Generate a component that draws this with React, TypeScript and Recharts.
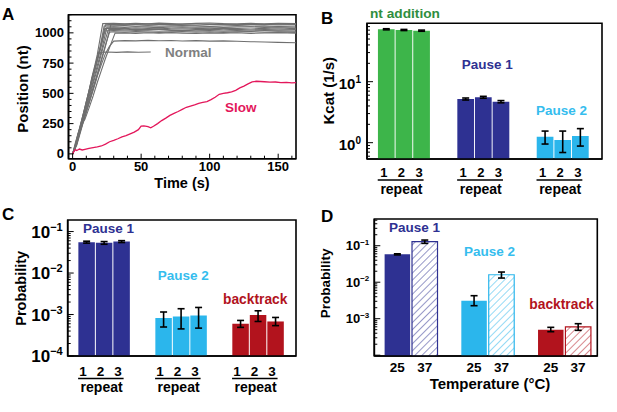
import React from 'react';
import { LineChart, Line, BarChart, Bar, XAxis, YAxis, ErrorBar, Cell, ReferenceArea } from 'recharts';

const FONT = '"Liberation Sans", Arial, Helvetica, sans-serif';

// ---------------- Panel A: trajectories ----------------
const normalTraces: [number, number][][] = [
  [[0,0],[2,60],[4,150],[6,230],[8,330],[10,430],[12,520],[14,630],[16,720],[18,820],[20,950],[22,1076],[30,1078],[38,1074],[46,1079],[55,1075],[63,1080],[72,1076],[80,1073],[90,1078],[100,1081],[110,1076],[120,1074],[130,1078],[140,1075],[150,1079],[163,1076]],
  [[0,0],[3,100],[6,240],[9,370],[12,500],[15,640],[18,780],[21,910],[24,1066],[30,1070],[38,1066],[46,1069],[55,1064],[63,1068],[72,1071],[80,1066],[90,1063],[100,1068],[110,1070],[120,1065],[130,1068],[140,1071],[150,1066],[163,1069]],
  [[0,0],[2,50],[5,180],[8,320],[11,460],[14,610],[17,740],[20,880],[23,1056],[30,1058],[38,1061],[46,1055],[55,1059],[63,1054],[72,1058],[80,1061],[90,1056],[100,1052],[110,1057],[120,1060],[130,1055],[140,1058],[150,1053],[163,1057]],
  [[0,0],[3,80],[6,210],[9,340],[12,470],[15,600],[18,730],[21,850],[25,1046],[30,1049],[38,1045],[46,1050],[55,1047],[63,1043],[72,1048],[80,1051],[90,1046],[100,1049],[110,1044],[120,1048],[130,1051],[140,1045],[150,1049],[163,1046]],
  [[0,0],[2,70],[5,200],[8,330],[11,450],[14,590],[17,720],[20,850],[24,1036],[30,1039],[38,1035],[46,1040],[55,1036],[63,1033],[72,1038],[80,1041],[90,1037],[100,1034],[110,1039],[120,1036],[130,1032],[140,1037],[150,1040],[163,1035]],
  [[0,0],[3,90],[6,220],[9,330],[12,450],[15,580],[18,700],[22,870],[26,1026],[30,1029],[38,1025],[46,1030],[55,1027],[63,1031],[72,1026],[80,1023],[90,1028],[100,1031],[110,1026],[120,1029],[130,1024],[140,1028],[150,1025],[163,1027]],
  [[0,0],[2,80],[5,210],[8,340],[11,480],[14,620],[17,750],[20,870],[23,1016],[30,1019],[38,1015],[46,1020],[55,1017],[63,1013],[72,1018],[80,1021],[90,1016],[100,1019],[110,1014],[120,1018],[130,1015],[140,1020],[150,1016],[163,1014]],
  [[0,0],[3,70],[6,190],[9,310],[12,430],[15,550],[18,660],[21,780],[24,900],[27,1006],[30,1009],[38,1005],[46,1010],[55,1007],[63,1003],[72,1008],[80,1011],[90,1006],[100,1009],[110,1004],[120,1008],[130,1011],[140,1005],[150,1008],[163,1004]],
  [[0,0],[2,90],[4,170],[6,230],[9,285],[12,380],[15,480],[18,590],[21,690],[24,790],[27,880],[29,940],[31,998],[38,1000],[46,996],[55,1001],[63,997],[72,1002],[80,998],[90,995],[100,1000],[110,997],[120,1001],[130,996],[140,999],[150,1002],[163,997]],
  [[0,0],[3,80],[6,200],[9,310],[12,420],[15,530],[18,640],[21,740],[24,830],[27,890],[30,932],[38,936],[46,934],[55,938],[63,935],[72,937],[80,933],[90,936],[100,932],[110,934],[120,930],[130,927],[140,924],[150,921],[163,918]],
  [[0,0],[2,70],[4,160],[6,250],[8,340],[10,430],[12,520],[14,610],[16,700],[19,838],[25,842],[32,839],[40,843],[48,840],[57,842]],
  [[0,0],[4,130],[8,280],[12,420],[16,570],[20,730],[24,890],[28,1070],[38,1073],[46,1069],[55,1074],[63,1070],[72,1067],[80,1072],[90,1075],[100,1070],[110,1073],[120,1068],[130,1072],[140,1069],[150,1073],[163,1070]],
];

const slowTrace: [number, number][] = [
  [0,0],[1,20],[2,35],[3,28],[5,40],[7,32],[9,38],[12,45],[15,52],[18,58],[21,65],[24,80],[27,100],[30,112],[33,125],[36,140],[39,150],[42,165],[45,180],[48,200],[50,230],[52,232],[55,225],[57,215],[59,228],[62,250],[65,275],[68,295],[71,318],[74,335],[77,350],[80,368],[83,385],[86,395],[89,405],[92,418],[95,425],[98,432],[101,448],[104,468],[107,492],[110,500],[113,505],[116,512],[119,525],[122,545],[125,560],[128,578],[131,595],[134,600],[137,598],[140,596],[144,592],[148,594],[152,588],[156,590],[160,586],[163,588],
];

const A_X_LABELS = [0, 50, 100, 150];
const A_Y_LABELS = [0, 250, 500, 750, 1000];

// ---------------- Panel B: Kcat ----------------
const kcatGroups = ['nt addition', 'Pause 1', 'Pause 2'];
const repeatLabels = ['1', '2', '3'];
const kcatValues = [[72.3, 70.4, 68.6], [5.2, 5.55, 4.7], [1.25, 1.11, 1.29]];
const kcatErrLow = [[1.5, 1.5, 1.5], [0.2, 0.2, 0.2], [0.3, 0.42, 0.41]];
const kcatErrHigh = [[1.5, 1.5, 1.5], [0.2, 0.2, 0.2], [0.3, 0.44, 0.41]];

// ---------------- Panel C: probability per repeat ----------------
const probGroups = ['Pause 1', 'Pause 2', 'backtrack'];
const probValues = [[0.0556, 0.0534, 0.0574], [8.2e-4, 8.95e-4, 9.5e-4], [5.97e-4, 9.8e-4, 6.8e-4]];
const probErrLow = [[0.003, 0.004, 0.003], [3.2e-4, 4.45e-4, 4.8e-4], [1.07e-4, 3.0e-4, 1.4e-4]];
const probErrHigh = [[0.003, 0.004, 0.003], [3.3e-4, 4.85e-4, 5.3e-4], [1.23e-4, 2.5e-4, 1.7e-4]];

// ---------------- Panel D: probability vs temperature ----------------
const tempLabels = ['25', '37'];
const tempValues = [[0.058, 0.129], [0.00311, 0.016], [5.0e-4, 6.0e-4]];
const tempErrLow = [[0.002, 0.013], [0.00084, 0.003], [0.6e-4, 1.2e-4]];
const tempErrHigh = [[0.002, 0.014], [0.00116, 0.003], [0.8e-4, 1.3e-4]];

// ---------------- styles ----------------
const GREEN = '#3db54a';
const GREEN_TEXT = '#2f8e3e';
const NAVY = '#2e3192';
const LIGHT = '#2bb6ec';
const LIGHT_TEXT = '#35bdee';
const DARKRED = '#b2131d';
const GRAY = '#6f6f6f';
const PINK = '#e3175b';

type Row = { x: number; value: number; err: [number, number]; g: number; r: number; label: string };

function buildRows(values: number[][], low: number[][], high: number[][], labels: string[], step: number): Row[] {
  const rows: Row[] = [];
  values.forEach((grp, g) =>
    grp.forEach((v, r) => rows.push({ x: g * step + r, value: v, err: [low[g][r], high[g][r]], g, r, label: labels[r] }))
  );
  return rows;
}

function logTicks(min: number, max: number): number[] {
  const out: number[] = [];
  for (let k = Math.floor(Math.log10(min)); k <= Math.ceil(Math.log10(max)); k++) {
    for (let m = 1; m <= 9; m++) {
      const v = parseFloat((m * Math.pow(10, k)).toPrecision(6));
      if (v >= min * 0.9999 && v <= max * 1.0001) out.push(v);
    }
  }
  return out;
}

const LinTickY = (props: any) => {
  const { x, y, payload, labels } = props;
  const v = payload.value;
  const major = labels.includes(v);
  return (
    <g>
      <line x1={x} y1={y} x2={x + (major ? 5 : 3)} y2={y} stroke="#000" strokeWidth={1} />
      {major && (
        <text x={x - 4.5} y={y + 4.6} textAnchor="end" fontFamily={FONT} fontWeight="bold" fontSize={13} fill="#000">
          {v}
        </text>
      )}
    </g>
  );
};

const LinTickX = (props: any) => {
  const { x, y, payload, labels } = props;
  const v = payload.value;
  const major = labels.includes(v);
  return (
    <g>
      <line x1={x} y1={y} x2={x} y2={y - (major ? 5 : 3)} stroke="#000" strokeWidth={1} />
      {major && (
        <text x={x} y={y + 12.5} textAnchor="middle" fontFamily={FONT} fontWeight="bold" fontSize={13} fill="#000">
          {v}
        </text>
      )}
    </g>
  );
};

const LogTick = (props: any) => {
  const { x, y, payload, base, sup, labelExps, yOff = 0, gap = 4 } = props;
  const v = payload.value;
  const e = Math.log10(v);
  const re = Math.round(e);
  const major = Math.abs(e - re) < 1e-6;
  const showLabel = major && labelExps.includes(re);
  const expText = re < 0 ? '\u2212' + String(-re) : String(re);
  return (
    <g>
      <line x1={x} y1={y} x2={x + (major ? 6 : 3)} y2={y} stroke="#000" strokeWidth={1} />
      {showLabel && (
        <text x={x - gap} y={y + base * 0.36 + yOff} textAnchor="end" fontFamily={FONT} fontWeight="bold" fontSize={base} fill="#000">
          10
          <tspan fontSize={sup} dy={-base * 0.42}>
            {expText}
          </tspan>
        </text>
      )}
    </g>
  );
};

const BarTick = (props: any) => {
  const { x, y, index, rows, fontSize, dy, dx = 0, pitch, underlineDy, groupLabel, groupDy } = props;
  const row: Row = rows[index];
  if (!row) return null;
  return (
    <g>
      <text x={x + dx} y={y + dy} textAnchor="middle" fontFamily={FONT} fontWeight="bold" fontSize={fontSize} fill="#000">
        {row.label}
      </text>
      {groupLabel && row.r === 1 && (
        <>
          <line x1={x - pitch - 9} x2={x + pitch + 1.5} y1={y + underlineDy} y2={y + underlineDy} stroke="#000" strokeWidth={1.6} />
          <text x={x - 3} y={y + groupDy} textAnchor="middle" fontFamily={FONT} fontWeight="bold" fontSize={14} fill="#000">
            {groupLabel}
          </text>
        </>
      )}
    </g>
  );
};

const axisLineStyle = { stroke: '#000', strokeWidth: 1.6 };

function PanelA() {
  const xDomain: [number, number] = [-3, 163];
  const yDomain: [number, number] = [-40, 1150];
  const xTicks = Array.from({ length: 17 }, (_, i) => i * 10);
  const yTicks = Array.from({ length: 24 }, (_, i) => i * 50);
  return (
    <LineChart width={310} height={200} margin={{ top: 14.7, right: 14, bottom: 0, left: 0 }}>
      <XAxis
        dataKey="t"
        type="number"
        domain={xDomain}
        allowDataOverflow
        ticks={xTicks}
        interval={0}
        tickSize={0}
        tickMargin={0}
        tickLine={false}
        axisLine={axisLineStyle}
        height={41.3}
        tick={<LinTickX labels={A_X_LABELS} />}
      />
      <YAxis
        type="number"
        domain={yDomain}
        allowDataOverflow
        ticks={yTicks}
        interval={0}
        tickSize={0}
        tickMargin={0}
        tickLine={false}
        axisLine={axisLineStyle}
        width={68.5}
        tick={<LinTickY labels={A_Y_LABELS} />}
      />
      {normalTraces.map((tr, i) => (
        <Line
          key={'n' + i}
          data={tr.map(([t, v]) => ({ t, v }))}
          dataKey="v"
          stroke={GRAY}
          strokeWidth={1.1}
          dot={false}
          isAnimationActive={false}
        />
      ))}
      <Line data={slowTrace.map(([t, v]) => ({ t, v }))} dataKey="v" stroke={PINK} strokeWidth={1.3} dot={false} isAnimationActive={false} />
      <ReferenceArea x1={xDomain[0]} x2={xDomain[1]} y1={yDomain[0]} y2={yDomain[1]} fill="none" stroke="#000" strokeWidth={1.6} />
    </LineChart>
  );
}

type LogBarProps = {
  width: number;
  height: number;
  margin: { top: number; right: number; bottom: number; left: number };
  yWidth: number;
  xHeight: number;
  rows: Row[];
  xDomain: [number, number];
  yDomain: [number, number];
  barSize: number;
  colors: string[];
  hatched?: boolean;
  tickProps: any;
  xTickProps: any;
};

function LogBarPanel(p: LogBarProps) {
  return (
    <BarChart width={p.width} height={p.height} data={p.rows} margin={p.margin}>
      <XAxis
        dataKey="x"
        type="number"
        domain={p.xDomain}
        allowDataOverflow
        ticks={p.rows.map((r) => r.x)}
        interval={0}
        tickSize={0}
        tickMargin={0}
        tickLine={false}
        axisLine={axisLineStyle}
        height={p.xHeight}
        tick={<BarTick rows={p.rows} {...p.xTickProps} />}
      />
      <YAxis
        type="number"
        scale="log"
        domain={p.yDomain}
        allowDataOverflow
        ticks={logTicks(p.yDomain[0], p.yDomain[1])}
        interval={0}
        tickSize={0}
        tickMargin={0}
        tickLine={false}
        axisLine={axisLineStyle}
        width={p.yWidth}
        tick={<LogTick {...p.tickProps} />}
      />
      <Bar dataKey="value" barSize={p.barSize} isAnimationActive={false}>
        {p.rows.map((r, i) =>
          p.hatched && r.r === 1 ? (
            <Cell key={i} fill={`url(#hatch-${r.g})`} stroke={p.colors[r.g]} strokeWidth={1.2} />
          ) : (
            <Cell key={i} fill={p.colors[r.g]} />
          )
        )}
        <ErrorBar dataKey="err" width={3.5} stroke="#000" strokeWidth={1.6} />
      </Bar>
      <ReferenceArea x1={p.xDomain[0]} x2={p.xDomain[1]} y1={p.yDomain[0]} y2={p.yDomain[1]} fill="none" stroke="#000" strokeWidth={1.6} />
    </BarChart>
  );
}

const txt = (x: number, y: number, s: string, color: string, size: number, anchor: 'start' | 'middle' | 'end' = 'start') => (
  <text x={x} y={y} fill={color} fontFamily={FONT} fontWeight="bold" fontSize={size} textAnchor={anchor}>
    {s}
  </text>
);

const vtxt = (cx: number, cy: number, s: string, size: number) => (
  <text
    x={cx}
    y={cy}
    transform={`rotate(-90 ${cx} ${cy})`}
    fill="#000"
    fontFamily={FONT}
    fontWeight="bold"
    fontSize={size}
    textAnchor="middle"
    dominantBaseline="central"
  >
    {s}
  </text>
);

export default function App() {
  const rowsB = buildRows(kcatValues, kcatErrLow, kcatErrHigh, repeatLabels, 4.5);
  const rowsC = buildRows(probValues, probErrLow, probErrHigh, repeatLabels, 4.4);
  const rowsD = buildRows(tempValues, tempErrLow, tempErrHigh, tempLabels, 2.8);
  const dColors = [NAVY, LIGHT, DARKRED];
  return (
    <div style={{ position: 'absolute', left: 0, top: 0, width: 617, height: 412, background: '#fff', overflow: 'hidden' }}>
      <div style={{ position: 'absolute', left: 0, top: 0 }}>
        <PanelA />
      </div>
      <div style={{ position: 'absolute', left: 310, top: 0 }}>
        <LogBarPanel
          width={307}
          height={200}
          margin={{ top: 23.3, right: 15, bottom: 0, left: 0 }}
          yWidth={57}
          xHeight={41}
          rows={rowsB}
          xDomain={[-1.12, 12.2]}
          yDomain={[0.54, 90.6]}
          barSize={16.7}
          colors={[GREEN, NAVY, LIGHT]}
          tickProps={{ base: 15, sup: 10, labelExps: [0, 1], yOff: 2, gap: 6 }}
          xTickProps={{ fontSize: 13, dy: 18, dx: -3, pitch: 17.67, underlineDy: 21, groupLabel: 'repeat', groupDy: 34.5 }}
        />
      </div>
      <div style={{ position: 'absolute', left: 0, top: 205 }}>
        <LogBarPanel
          width={310}
          height={207}
          margin={{ top: 15, right: 14, bottom: 0, left: 0 }}
          yWidth={67.7}
          xHeight={56}
          rows={rowsC}
          xDomain={[-1.11, 11.94]}
          yDomain={[1e-4, 0.19]}
          barSize={16.5}
          colors={[NAVY, LIGHT, DARKRED]}
          tickProps={{ base: 17, sup: 11, labelExps: [-1, -2, -3, -4], yOff: 0, gap: 5 }}
          xTickProps={{ fontSize: 13.5, dy: 19.5, dx: -4, pitch: 17.5, underlineDy: 22.5, groupLabel: 'repeat', groupDy: 36 }}
        />
      </div>
      <div style={{ position: 'absolute', left: 310, top: 205 }}>
        <LogBarPanel
          width={307}
          height={207}
          margin={{ top: 14, right: 19.7, bottom: 0, left: 0 }}
          yWidth={64.3}
          xHeight={56}
          rows={rowsD}
          xDomain={[-0.84, 7.3]}
          yDomain={[9.5e-5, 0.54]}
          barSize={25.5}
          colors={dColors}
          hatched
          tickProps={{ base: 13, sup: 8, labelExps: [-1, -2, -3], yOff: 0, gap: 5 }}
          xTickProps={{ fontSize: 13.5, dy: 15.5, dx: 0, pitch: 27.4, underlineDy: 0, groupLabel: null, groupDy: 0 }}
        />
      </div>
      <svg width={617} height={412} style={{ position: 'absolute', left: 0, top: 0, pointerEvents: 'none' }}>
        <defs>
          {dColors.map((c, i) => (
            <pattern key={i} id={`hatch-${i}`} patternUnits="userSpaceOnUse" width={5} height={5} patternTransform="rotate(45)">
              <rect x={0} y={0} width={5} height={5} fill="#fff" />
              <line x1={0} y1={0} x2={0} y2={5} stroke={c} strokeWidth={1} />
            </pattern>
          ))}
        </defs>
        {/* panel letters */}
        {txt(2, 20, 'A', '#000', 17)}
        {txt(321, 24, 'B', '#000', 17)}
        {txt(2, 220, 'C', '#000', 17)}
        {txt(321, 222, 'D', '#000', 17)}
        {/* axis titles */}
        {vtxt(22, 89, 'Position (nt)', 15)}
        {txt(182, 188, 'Time (s)', '#000', 14.5, 'middle')}
        {vtxt(328.5, 90.7, 'Kcat (1/s)', 15)}
        {vtxt(21, 288.3, 'Probability', 14.5)}
        {vtxt(325.8, 283.3, 'Probability', 13.5)}
        {txt(490, 389, 'Temperature (\u00B0C)', '#000', 15, 'middle')}
        {/* annotations */}
        {txt(165, 57.3, 'Normal', '#808080', 13.5)}
        {txt(225, 111.5, 'Slow', PINK, 13.5)}
        {txt(370, 18, 'nt addition', GREEN_TEXT, 13.7)}
        {txt(461.7, 69, 'Pause 1', NAVY, 13.5)}
        {txt(536, 115, 'Pause 2', LIGHT_TEXT, 13.5)}
        {txt(83, 233.3, 'Pause 1', NAVY, 13.5)}
        {txt(157.7, 280, 'Pause 2', LIGHT_TEXT, 13.5)}
        {txt(223, 304.3, 'backtrack', DARKRED, 13.8)}
        {txt(389, 232.3, 'Pause 1', NAVY, 13.5)}
        {txt(464, 255.7, 'Pause 2', LIGHT_TEXT, 13.5)}
        {txt(529.3, 309, 'backtrack', DARKRED, 13.8)}
      </svg>
    </div>
  );
}
